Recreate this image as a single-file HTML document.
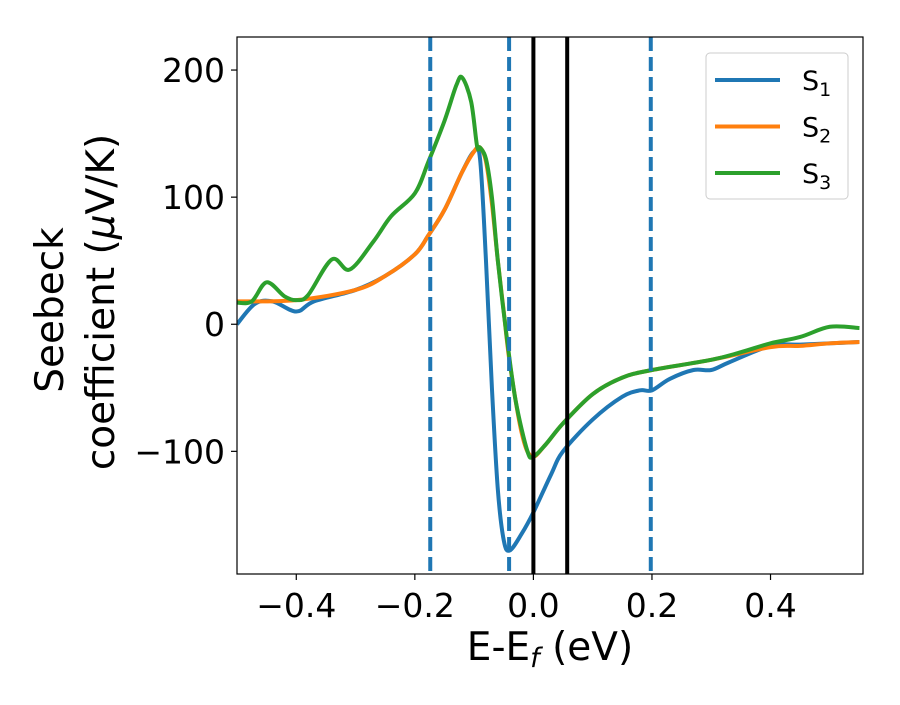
<!DOCTYPE html>
<html><head><meta charset="utf-8"><style>
html,body{margin:0;padding:0;background:#fff}
svg{font-family:"DejaVu Sans","Liberation Sans",sans-serif}
</style></head><body>
<svg id="chart" width="900" height="700" viewBox="0 0 900 700" xmlns="http://www.w3.org/2000/svg">
<g id="plot"></g>
</svg>
<script>
const xTicks=[-0.4,-0.2,0.0,0.2,0.4];
const xTickLabels=["\u22120.4","\u22120.2","0.0","0.2","0.4"];
const yTicks=[-100,0,100,200];
const yTickLabels=["\u2212100","0","100","200"];
const blueDashed=[-0.174,-0.041,0.198];
const blackLines=[0.0,0.057];
const s1x=[-0.5,-0.47,-0.44,-0.4,-0.37,-0.3,-0.25,-0.2,-0.177,-0.15,-0.12,-0.1,-0.09,-0.08,-0.07,-0.06,-0.05,-0.04,-0.02,0.0,0.03,0.05,0.1,0.15,0.18,0.2,0.23,0.27,0.3,0.33,0.4,0.45,0.5,0.55];
const s1y=[0,16,18,10,18,27,38,55,70,90,120,136,130,50,-50,-130,-170,-178,-165,-148,-118,-100,-75,-57,-52,-52,-43,-36,-36,-30,-17,-16,-15,-14];
const s2x=[-0.5,-0.4,-0.3,-0.25,-0.2,-0.177,-0.15,-0.12,-0.1,-0.09,-0.08,-0.07,-0.06,-0.05,-0.04,-0.02,-0.003,0.02,0.05,0.1,0.15,0.2,0.3,0.4,0.45,0.5,0.55];
const s2y=[18,19,27,38,55,70,90,120,136,139,128,95,50,10,-30,-85,-104,-95,-78,-55,-42,-36,-28,-18,-17,-15,-14];
const s3x=[-0.5,-0.475,-0.45,-0.42,-0.4,-0.38,-0.34,-0.31,-0.27,-0.24,-0.2,-0.177,-0.15,-0.13,-0.12,-0.105,-0.095,-0.09,-0.08,-0.07,-0.06,-0.045,-0.03,-0.01,0.0,0.02,0.05,0.1,0.15,0.2,0.3,0.35,0.4,0.45,0.5,0.55];
const s3y=[17,18,33,22,19,23,51,43,65,85,103,128,160,188,194,175,140,139,130,100,50,-10,-60,-100,-104,-95,-78,-55,-42,-36,-28,-22,-15,-10,-2,-3];

const L=237,R=863,T=37,B=574,X0=-0.5,X1=0.556,Y0=-196.5,Y1=226;
const sx=v=>L+(v-X0)/(X1-X0)*(R-L);
const sy=v=>B-(v-Y0)/(Y1-Y0)*(B-T);
const NS="http://www.w3.org/2000/svg";
const svg=document.getElementById('chart');
const plot=document.getElementById('plot');
function mk(tag,attrs,parent){const e=document.createElementNS(NS,tag);for(const k in attrs)e.setAttribute(k,attrs[k]);(parent||svg).appendChild(e);return e;}
function smooth(xs,ys){const p=xs.map((x,i)=>[sx(x),sy(ys[i])]);let d="M"+p[0][0]+","+p[0][1];
for(let i=0;i<p.length-1;i++){const p0=p[Math.max(0,i-1)],p1=p[i],p2=p[i+1],p3=p[Math.min(p.length-1,i+2)];
const c1=[p1[0]+(p2[0]-p0[0])/6,p1[1]+(p2[1]-p0[1])/6],c2=[p2[0]-(p3[0]-p1[0])/6,p2[1]-(p3[1]-p1[1])/6];
d+=" C"+c1[0]+","+c1[1]+" "+c2[0]+","+c2[1]+" "+p2[0]+","+p2[1];}return d;}
const clip=mk('clipPath',{id:'pc'});mk('rect',{x:L,y:T,width:R-L,height:B-T},clip);
plot.setAttribute('clip-path','url(#pc)');
const series=[[s1x,s1y,'#1f77b4','series-s1'],[s2x,s2y,'#ff7f0e','series-s2'],[s3x,s3y,'#2ca02c','series-s3']];
series.forEach(s=>{const e=mk('path',{d:smooth(s[0],s[1]),fill:'none',stroke:s[2],'stroke-width':4},plot);

});
blueDashed.forEach(v=>{const e=mk('line',{x1:sx(v),x2:sx(v),y1:T,y2:B,stroke:'#1f77b4','stroke-width':4,'stroke-dasharray':'14,6'},plot);

});
blackLines.forEach(v=>{const e=mk('line',{x1:sx(v),x2:sx(v),y1:T,y2:B,stroke:'#000','stroke-width':4},plot);

});
const fr=mk('rect',{x:L,y:T,width:R-L,height:B-T,fill:'none',stroke:'#000','stroke-width':1.2});


xTicks.forEach((v,i)=>{mk('line',{x1:sx(v),x2:sx(v),y1:B,y2:B+6,stroke:'#000','stroke-width':1.2});
const t=mk('text',{x:sx(v),y:B+43,'font-size':33,'text-anchor':'middle'});t.textContent=xTickLabels[i];

});
yTicks.forEach((v,i)=>{mk('line',{x1:L-6,x2:L,y1:sy(v),y2:sy(v),stroke:'#000','stroke-width':1.2});
const t=mk('text',{x:L-12,y:sy(v)+12,'font-size':33,'text-anchor':'end'});t.textContent=yTickLabels[i];

});
const xl=mk('text',{x:550,y:660,'font-size':39,'text-anchor':'middle'});
xl.innerHTML='E-E<tspan font-size="27" font-style="italic" dy="7">f</tspan><tspan dy="-7"> (eV)</tspan>';


const yl=mk('text',{transform:'translate(63,310) rotate(-90)','font-size':39,'text-anchor':'middle'});
yl.textContent='Seebeck';


const yl2=mk('text',{transform:'translate(114,302) rotate(-90)','font-size':39,'text-anchor':'middle'});
yl2.innerHTML='coefficient  (<tspan font-style="italic">\u03bc</tspan>V/K)';


const lg=mk('g',{});


mk('rect',{x:706,y:53,width:142,height:146,rx:4,fill:'#fff',stroke:'#ccc','stroke-width':1},lg);
['S','S','S'].forEach((s,i)=>{const y=80+i*46.5;
mk('line',{x1:715,x2:780,y1:y,y2:y,stroke:series[i][2],'stroke-width':4},lg);
const t=mk('text',{x:802,y:y+10,'font-size':27},lg);t.innerHTML=s+'<tspan font-size="19" dy="6">'+(i+1)+'</tspan>';

});
</script>
</body></html>
